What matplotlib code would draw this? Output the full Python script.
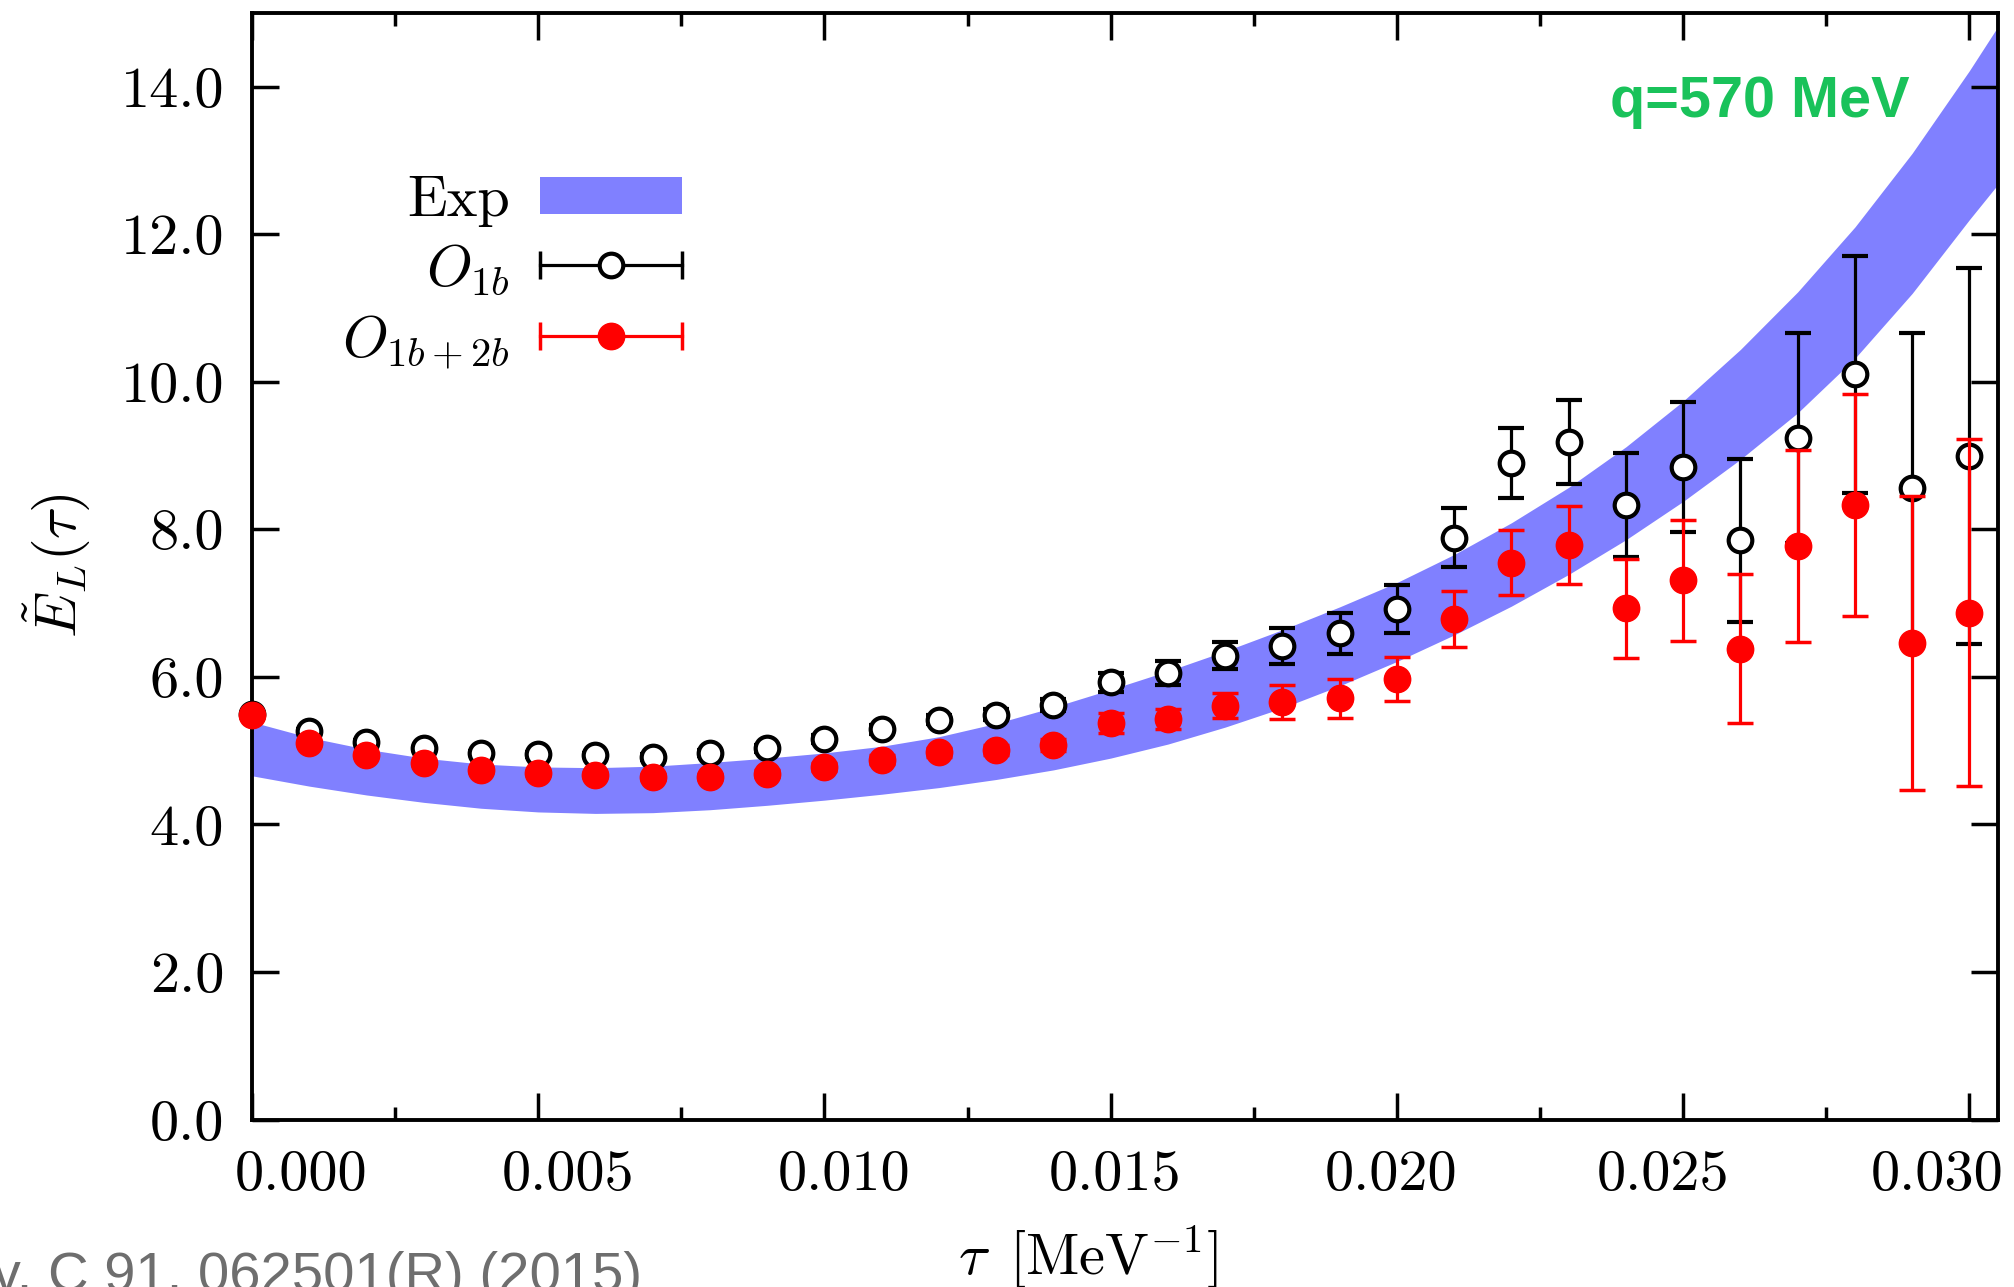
import numpy as np
import matplotlib.pyplot as plt
import matplotlib.transforms as mtrans
from matplotlib.patches import Patch
from matplotlib.lines import Line2D
from matplotlib.legend_handler import HandlerBase

plt.rcParams['mathtext.fontset'] = 'cm'
plt.rcParams['font.family'] = 'serif'
plt.rcParams['font.serif'] = ['cmr10', 'DejaVu Serif']
plt.rcParams['axes.formatter.use_mathtext'] = True

# imaginary time grid [MeV^-1]
tau = np.arange(31) * 0.001

# one-body operator
e_1b = [5.50, 5.27, 5.12, 5.03, 4.97, 4.95, 4.94, 4.92, 4.97, 5.03,
        5.16, 5.29, 5.42, 5.49, 5.62, 5.93, 6.05, 6.29, 6.42, 6.59,
        6.92, 7.89, 8.90, 9.19, 8.33, 8.85, 7.85, 9.24, 10.10, 8.56, 9.00]
err_1b = [0.01, 0.02, 0.02, 0.02, 0.03, 0.03, 0.03, 0.04, 0.04, 0.05,
          0.05, 0.06, 0.06, 0.07, 0.08, 0.13, 0.165, 0.18, 0.24, 0.28,
          0.33, 0.40, 0.47, 0.57, 0.71, 0.88, 1.10, 1.42, 1.61, 2.10, 2.55]

# one- plus two-body operator
e_12b = [5.48, 5.11, 4.94, 4.83, 4.74, 4.70, 4.67, 4.64, 4.65, 4.69,
         4.78, 4.88, 4.98, 5.01, 5.08, 5.37, 5.43, 5.61, 5.66, 5.71,
         5.97, 6.79, 7.55, 7.79, 6.93, 7.31, 6.38, 7.77, 8.33, 6.46, 6.87]
err_12b = [0.01, 0.02, 0.02, 0.02, 0.03, 0.03, 0.03, 0.04, 0.04, 0.05,
           0.05, 0.06, 0.06, 0.07, 0.08, 0.135, 0.14, 0.17, 0.225, 0.26,
           0.30, 0.38, 0.44, 0.53, 0.67, 0.82, 1.01, 1.30, 1.50, 1.99, 2.35]

# experimental band
band_tau = np.append(np.arange(31) * 0.001, 0.0305)
band_lo = [4.66, 4.52, 4.40, 4.30, 4.22, 4.17, 4.15, 4.16, 4.20, 4.26,
           4.33, 4.41, 4.50, 4.61, 4.74, 4.90, 5.09, 5.32, 5.58, 5.88,
           6.21, 6.57, 6.96, 7.39, 7.86, 8.38, 8.95, 9.58, 10.32, 11.20,
           12.20, 12.68]
band_hi = [5.39, 5.18, 5.02, 4.90, 4.82, 4.78, 4.77, 4.79, 4.84, 4.90,
           4.97, 5.06, 5.19, 5.37, 5.59, 5.83, 6.08, 6.35, 6.64, 6.95,
           7.28, 7.66, 8.09, 8.57, 9.12, 9.74, 10.44, 11.22, 12.10, 13.10,
           14.22, 14.82]

x_ticks = np.arange(0, 0.0301, 0.005)
y_ticks = np.arange(0, 14.1, 2.0)
# horizontal nudge of the tau tick labels, in pixels
x_label_shift = [49, 30, 20, 4, -6, -20, -32]

BAND = '#8080ff'
FS = 42


class HandlerHBar(HandlerBase):
    """Horizontal error bar key: line with end caps and a marker in the middle."""
    def create_artists(self, legend, orig_handle, xdescent, ydescent,
                       width, height, fontsize, trans):
        y = height / 2 - ydescent
        x0, x1 = -xdescent, width - xdescent
        c = orig_handle.get_color()
        stem = Line2D([x0, x1], [y, y], color=c, lw=2.3)
        caps = Line2D([x0, x1], [y, y], ls='none', marker='|', ms=19.5,
                      mew=2.5, color=c)
        dot = Line2D([(x0 + x1) / 2], [y], ls='none', marker='o',
                     ms=orig_handle.get_markersize(),
                     mfc=orig_handle.get_markerfacecolor(), mec=c,
                     mew=orig_handle.get_markeredgewidth())
        for a in (stem, caps, dot):
            a.set_transform(trans)
        return [stem, caps, dot]


fig = plt.figure(figsize=(20.14, 12.87), dpi=100)
ax = fig.add_axes([0.1251, 0.1301, 0.8670, 0.8598])

ax.fill_between(band_tau, band_lo, band_hi, color=BAND, lw=0, zorder=1)

eb1 = ax.errorbar(tau, e_1b, yerr=err_1b, fmt='o', color='black',
                  mfc='white', mec='black', ms=17, mew=3, elinewidth=2.3,
                  capsize=9.5, capthick=2.5, zorder=3)
eb2 = ax.errorbar(tau, e_12b, yerr=err_12b, fmt='o', color='red',
                  mfc='red', mec='red', ms=19, elinewidth=2.3, capsize=9.5,
                  capthick=2.5, zorder=4)
for eb in (eb1, eb2):
    eb[0].set_clip_on(False)
    for a in list(eb[1]) + list(eb[2]):
        a.set_clip_on(False)

ax.set_xlim(0, 0.0305)
ax.set_ylim(0, 15)
ax.set_xticks(x_ticks)
ax.set_xticklabels([f'{v:.3f}' for v in x_ticks])
ax.set_xticks(np.arange(0.0025, 0.03, 0.005), minor=True)
ax.set_yticks(y_ticks)
ax.set_yticklabels([f'{v:.1f}' for v in y_ticks])
ax.tick_params(which='both', direction='in', top=True, right=True, width=2.5)
ax.tick_params(which='major', length=19.5)
ax.tick_params(which='minor', length=9.5)
ax.tick_params(axis='x', pad=22, labelsize=FS)
ax.tick_params(axis='y', pad=20, labelsize=FS)
for s in ax.spines.values():
    s.set_linewidth(2.8)

for lab, dx in zip(ax.get_xticklabels(), x_label_shift):
    lab.set_transform(lab.get_transform() +
                      mtrans.ScaledTranslation(dx / 100, 0, fig.dpi_scale_trans))

ax.set_xlabel(r'$\tau\ \,[\mathrm{MeV}^{-1}]$', fontsize=FS)
ax.xaxis.set_label_coords(0.479, -0.094)
ax.set_ylabel(r'$\tilde{E}_L(\tau)$', fontsize=FS)
ax.yaxis.set_label_coords(-0.0916, 0.5)

ax.text(0.8637, 0.906, 'q=570 MeV', transform=ax.transAxes, ha='center',
        va='baseline', fontsize=41.5, fontweight='bold', color='#19c25a',
        family='Liberation Sans')

h_exp = Patch(facecolor=BAND, edgecolor='none')
h_1b = Line2D([], [], color='black', marker='o', ms=17, mfc='white', mew=3)
h_12b = Line2D([], [], color='red', marker='o', ms=19, mfc='red', mew=1)
ax.legend([h_exp, h_1b, h_12b], ['Exp', r'$O_{1b}$', r'$O_{1b+2b}$'],
          handler_map={Line2D: HandlerHBar()}, loc='upper right',
          bbox_to_anchor=(0.2463, 0.853), frameon=False, fontsize=FS,
          markerfirst=False, handlelength=2.43, handletextpad=0.52,
          handleheight=0.6, labelspacing=0.27, borderpad=0, borderaxespad=0)

fig.text(0.3188, -0.003, 'Phys. Rev. C 91, 062501(R) (2015)', ha='right',
         va='baseline', fontsize=40.4, color='#6e6e6e',
         family='Liberation Sans')

fig.savefig('out.png', dpi=100)
